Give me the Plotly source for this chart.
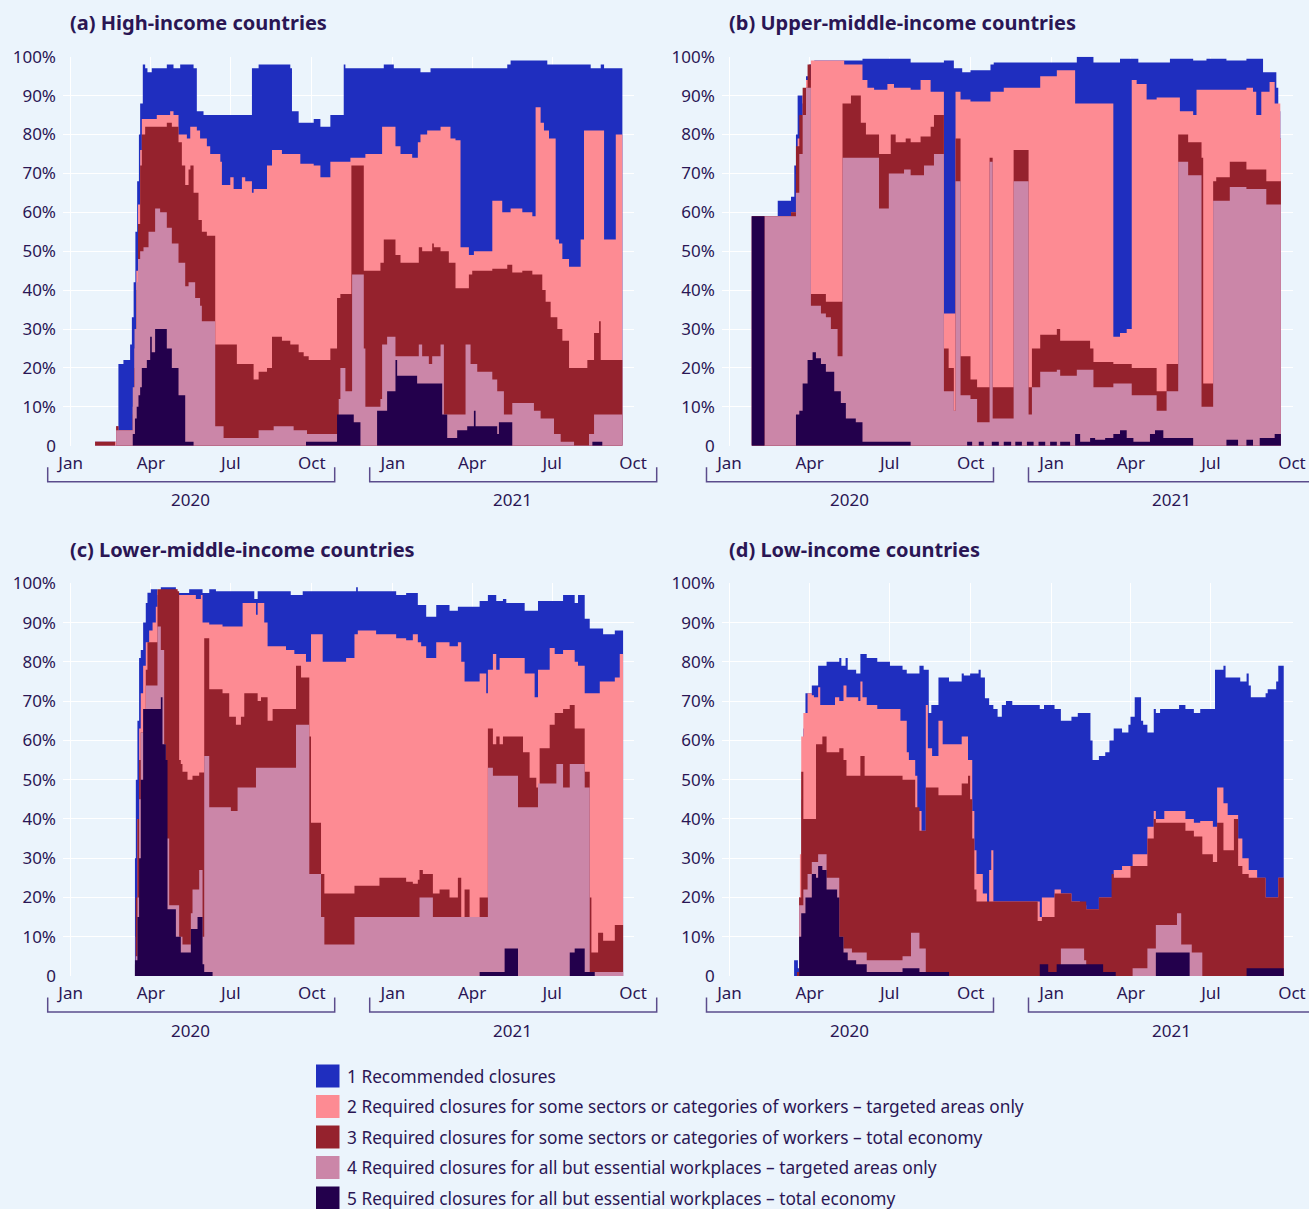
import pandas as pd
import plotly.graph_objects as go

START = pd.Timestamp("2020-01-01")

LEVELS = [
    "1 Recommended closures",
    "2 Required closures for some sectors or categories of workers – targeted areas only",
    "3 Required closures for some sectors or categories of workers – total economy",
    "4 Required closures for all but essential workplaces – targeted areas only",
    "5 Required closures for all but essential workplaces – total economy",
]
COLORS = ["#1f2ebf", "#fd8b93", "#95222d", "#cb86a8", "#23004c"]
TITLES = [
    "(a) High-income countries",
    "(b) Upper-middle-income countries",
    "(c) Lower-middle-income countries",
    "(d) Low-income countries",
]
MONTH_TICKS = ["2020-01-01", "2020-04-01", "2020-07-01", "2020-10-01",
               "2021-01-01", "2021-04-01", "2021-07-01", "2021-10-01"]
MONTH_LABELS = ["Jan", "Apr", "Jul", "Oct", "Jan", "Apr", "Jul", "Oct"]
YEARS = ["2020", "2021"]
Y_TICKS = [0, 10, 20, 30, 40, 50, 60, 70, 80, 90, 100]
Y_LABELS = ["0", "10%", "20%", "30%", "40%", "50%", "60%", "70%", "80%", "90%", "100%"]

# (days since 1 Jan 2020, % of countries at this level or stricter)
HI_1 = [(27.7, 1), (51.6, 5), (54.2, 21), (59.9, 22), (67.5, 26), (69.5, 33), (71.5, 42), (73.5, 55),
        (75.5, 68), (77.5, 80), (78.9, 88), (81.9, 98), (84.6, 97), (87.2, 96), (92.1, 97), (109.2, 98),
        (116.8, 97), (124.4, 98), (139.6, 97), (143.3, 86), (150.9, 85), (205.9, 97), (213.5, 98),
        (249.5, 97), (251.4, 86), (259, 83), (276.1, 84), (283.7, 82), (295, 85), (310.2, 98), (312.1, 97),
        (355.7, 98), (367.1, 97), (397.4, 96), (408.8, 97), (496, 98), (499.8, 99), (541.5, 98),
        (590.8, 97), (602.2, 98), (606, 97), (626.8, 97)]
HI_2 = [(27.7, 1), (51.6, 5), (54.2, 4), (68.3, 4), (70.5, 10), (72.5, 25), (74.5, 45), (76.5, 62),
        (78.9, 76), (80.8, 84), (97.8, 85), (113, 86), (116.8, 85), (122.5, 80), (132, 79), (135.8, 82),
        (143.3, 81), (147, 79), (154.7, 77), (158.5, 75), (170, 73), (171.8, 67), (181.3, 69), (185.1, 66),
        (194.5, 69), (198.3, 68), (205.9, 65), (207.8, 66), (223, 72), (228.7, 76), (240, 75),
        (260.9, 72.5), (276.1, 72), (283.7, 69), (295, 73), (317.8, 74), (334.8, 75), (353.8, 82),
        (369, 77), (374.7, 75), (388, 74), (394.4, 78), (397.4, 80), (405, 81), (420.2, 82), (431.5, 79),
        (437.2, 78.5), (442.9, 51), (452.4, 49), (458.1, 50), (479, 63), (490.3, 60), (499.8, 61),
        (513.1, 60), (524.5, 59), (528.2, 87), (533.9, 83), (537.7, 81), (543.4, 79), (551, 53),
        (554.8, 52), (558.6, 48), (566.2, 46), (579.4, 53), (583.2, 81), (606, 53), (619.3, 80), (626.8, 80)]
HI_3 = [(27.7, 1), (50.4, 0), (51.6, 5), (54.2, 4), (68.3, 4), (70.5, 8), (72.5, 20), (74.5, 40),
        (76.5, 57), (78.9, 72), (80.8, 80), (84.6, 82), (109.2, 83), (114.9, 82), (122.5, 78), (126.3, 72),
        (130.1, 67), (133.9, 71), (136, 72), (139.6, 65), (145.2, 58), (149, 55), (154.7, 54), (164.2, 26),
        (188.8, 21), (207.8, 17), (213.5, 19), (223, 20), (228.7, 28), (240, 27), (249.5, 26), (259, 24),
        (264.7, 23), (270.4, 22), (295, 25), (302.6, 38), (306.4, 39), (318.9, 72), (333, 45), (351.9, 47),
        (355.7, 53), (369, 49), (374.7, 47), (395.5, 51), (399.3, 50), (410.7, 52), (412.6, 51), (420.2, 50),
        (429.6, 47), (437.2, 40.5), (452.4, 44), (456.2, 45), (479, 45.5), (496, 46.5), (501.7, 44.5),
        (513.1, 45), (524.5, 44), (535.8, 40), (539.6, 37), (545.3, 33), (552.9, 30), (558.6, 27),
        (566.2, 20), (587, 22), (594.6, 29), (600.3, 32), (602.2, 22), (626.8, 22)]
HI_4 = [(51.6, 4), (68.3, 4), (70.5, 15), (72.5, 30), (74.5, 42), (76.5, 48), (78.9, 50), (82.7, 51),
        (88.4, 55), (95.9, 61), (101.6, 60), (109.2, 56), (114.9, 52), (122.5, 47), (130.1, 41), (133.9, 42),
        (141.4, 38), (147, 36), (149, 32), (164.2, 5), (173.7, 2), (213.5, 4), (230.6, 5), (253.3, 4),
        (268.5, 3), (302.6, 3), (304.5, 12), (306.4, 20), (312.1, 14), (319.7, 44), (333, 25), (334.8, 10),
        (351.9, 12), (353.8, 26), (359.5, 28), (369, 23), (395.5, 26), (399.3, 23), (406.9, 21), (410.7, 23),
        (420.2, 26), (424, 8), (448.6, 26), (454.3, 21), (461.9, 19), (479, 17), (484.6, 14), (492.2, 8),
        (501.7, 11), (526.3, 9), (533.9, 7), (549.1, 3), (556.7, 1), (571.9, 0), (588.9, 3), (594.6, 8),
        (626.8, 8)]
HI_5 = [(68.3, 0), (70.5, 3), (73, 7), (75, 10), (77, 13), (78.9, 15), (80.8, 20), (86.5, 22), (90.3, 28),
        (92.1, 24), (95.9, 30), (109.2, 25), (114.9, 20), (122.5, 13), (130.1, 1), (139.6, 0), (267.3, 1),
        (302.6, 8), (321.6, 6), (329.2, 0), (348.1, 9), (359.5, 14), (369, 22), (370.9, 18), (393.6, 16),
        (422.1, 8), (427.8, 2), (439.1, 4), (450.5, 5), (458.1, 9), (460, 5), (484.6, 3), (486.5, 6),
        (501.7, 0), (592.7, 1), (604, 0), (626.8, 0)]

UM_1 = [(25.3, 59), (54.8, 63), (69.9, 64), (73.6, 72), (75.5, 80), (77.4, 90), (83.1, 88), (86.9, 95),
        (90.6, 98), (96.3, 99), (151.1, 99.5), (205.8, 98.5), (243.6, 99), (254.9, 97), (264.4, 96),
        (273.8, 96.5), (296.5, 98), (300.2, 98.5), (394.6, 100), (413.5, 98.5), (443.7, 99.5), (464.5, 98.5),
        (500.4, 99.5), (526.8, 99), (541.9, 99.5), (564.6, 99), (587.3, 99.5), (606.2, 96), (621.3, 92),
        (623.5, 86), (625.8, 79), (626.5, 79)]
UM_2 = [(25.3, 59), (69.9, 60), (75.5, 70), (77.4, 79), (83.1, 90), (86.9, 94), (92.5, 99), (130.3, 98),
        (151.1, 94), (156.7, 92), (164.3, 91.5), (179.4, 93), (186.9, 92), (205.8, 91.5), (217.1, 94),
        (228.5, 91), (243.6, 34), (256.8, 91), (262.5, 89), (273.8, 88.5), (296.5, 91), (311.6, 92),
        (353, 95), (371.9, 96.5), (392.7, 88), (436.1, 28), (443.7, 29), (451.3, 30), (457, 94),
        (462.6, 93), (473.9, 89), (485.3, 89.5), (511.7, 86), (526.8, 85), (530.6, 91.5), (587.3, 92),
        (594.8, 91), (598.5, 85), (604.2, 91), (613.6, 93.5), (619.4, 88), (625.8, 79), (626.5, 79)]
UM_3 = [(25.3, 59), (69.9, 60), (75.5, 77), (79.3, 85), (83.1, 92), (88.7, 98), (92.5, 39), (109.5, 37),
        (128.4, 88), (138, 90), (149.2, 83), (155, 80), (169.9, 75), (183.2, 80), (188.8, 78), (200.2, 79),
        (205.8, 78), (217.1, 79.5), (228.5, 82), (232.3, 85), (243.6, 25), (249, 20), (254.9, 9),
        (256.8, 79), (262.5, 23), (273.8, 17), (281.3, 15), (295.5, 74), (299, 15), (322.8, 76),
        (339.8, 15), (343.6, 25), (353, 28.5), (371.9, 30), (375.7, 27), (409.7, 25), (413.5, 21.5),
        (436.1, 21), (457, 20), (485.3, 14), (496.6, 21), (509.8, 80), (521.1, 78), (536.3, 74),
        (538.2, 16), (549.5, 68), (553, 69), (568.4, 73), (587.3, 71), (609.9, 68), (626.5, 68)]
UM_4 = [(39.7, 59), (75.5, 65), (79.3, 75), (83.1, 85), (86.9, 92), (92.5, 36), (103.9, 34), (109.5, 33),
        (115.2, 30), (122.8, 23), (128.4, 74), (169.9, 61), (181, 70), (198.3, 71), (205.8, 69.5),
        (221, 72), (232.3, 75), (243.6, 14), (254.9, 9), (256.8, 68), (262.5, 13), (273.8, 12), (281.3, 6),
        (295.5, 73), (299, 7), (322.8, 68), (339.8, 8), (343.6, 15), (353, 19), (371.9, 19.5), (375.7, 18),
        (394.6, 19.5), (413.5, 15), (436.1, 16), (457, 13), (485.3, 9), (496.6, 14), (509.8, 73),
        (521.1, 69.5), (536.3, 10), (549.5, 63), (568.4, 66.5), (587.3, 66), (609.9, 62), (626.5, 62)]
UM_5 = [(25.3, 59), (39.7, 0), (75.5, 8), (79.3, 9), (83.1, 16), (88.7, 22), (94.4, 24), (98.2, 22.5),
        (103.9, 21), (109.5, 19), (119, 14), (126.5, 11), (132.2, 7), (143.5, 6), (151.1, 1), (205.8, 0),
        (270, 1), (275.7, 0), (283.2, 1), (288.9, 0), (298, 1), (306, 0), (311.6, 1), (320, 0), (324.7, 1),
        (332.2, 0), (337.9, 1), (345.5, 0), (351.1, 1), (358.7, 0), (364.3, 1), (371.9, 0), (375.7, 1),
        (387, 0), (392.7, 3), (398.4, 1), (409.7, 2), (415.4, 1.5), (426.8, 2), (436.1, 3), (443.7, 4),
        (451.3, 2), (458.9, 1), (477.7, 3), (483.4, 4), (492.9, 2), (526.8, 0), (564.6, 1.5), (577.8, 0),
        (587.3, 1.5), (594.8, 0), (602.4, 2), (619.4, 3), (626.5, 3)]

LM_1 = [(72, 0), (73, 30), (74, 50), (75.8, 65), (77.7, 81), (79.6, 83), (82.3, 90), (85.3, 95),
        (87.2, 97.6), (91, 98.5), (98.6, 97), (102.4, 99), (119.5, 97.5), (134.6, 98.5), (149.8, 97.5),
        (157.4, 98.5), (165, 98), (208.6, 96), (212.4, 98), (250, 97), (263.6, 98), (312.9, 98),
        (324.3, 99), (326.2, 98), (369.8, 97), (381.1, 97.5), (394.4, 94.5), (403.9, 91.5), (415.3, 94.5),
        (430.4, 93), (439.9, 94), (464.6, 95.5), (474, 97), (483.5, 95.5), (491.1, 96), (494.9, 95),
        (515.8, 93), (530.9, 95.5), (559.4, 97), (572.6, 95), (576.4, 97), (584, 91), (589.7, 88.5),
        (604.9, 87), (618.2, 88), (627.6, 88)]
LM_2 = [(74, 10), (75.8, 40), (77.7, 63), (79.6, 72), (82.3, 79), (85.3, 85), (89.1, 88), (93, 90),
        (96.7, 94), (98.6, 98), (119.5, 98.5), (121.4, 97), (142.2, 96), (147.9, 97), (149.8, 90),
        (157.4, 89.5), (172.5, 89), (195.3, 95), (210.5, 92), (212.4, 95), (219.9, 90), (223.7, 84),
        (244.6, 83), (254.1, 82), (267.3, 80), (273, 87), (286.3, 80), (312.9, 81), (322.4, 87),
        (326.2, 88), (347, 87), (369.8, 86), (381.1, 85.5), (388.7, 87), (394.4, 85), (398.2, 84),
        (403.9, 81), (415.3, 85), (430.4, 84), (439.9, 85), (443.7, 80), (447.5, 75), (464.6, 77),
        (472.1, 72), (474, 78), (479.7, 82), (483.5, 78), (487.3, 81), (515.8, 77), (527.1, 71),
        (530.9, 78), (544.2, 83.5), (549.9, 82), (559.4, 83), (572.6, 80), (576.4, 79), (584, 72),
        (601.1, 75), (618.2, 76), (623.8, 82), (627.6, 82)]
LM_3 = [(73, 3), (74, 20), (75.8, 40), (77.7, 55), (79.6, 62), (82.3, 68), (85.3, 78), (87.2, 85),
        (98.6, 98.5), (121.4, 98), (123.2, 55), (125.1, 54), (127, 52), (132.7, 50), (138.4, 51),
        (146, 51.8), (151.7, 86), (157.4, 73), (172.5, 72), (180.1, 66), (187.7, 64), (193.4, 66),
        (197.2, 72), (212.4, 70), (216.2, 71), (223.7, 65), (229.4, 68), (256, 79), (261.7, 76),
        (271.1, 61), (273, 39), (284.4, 26), (288.2, 21), (320.5, 21), (322.4, 23), (350.8, 25),
        (381.1, 24), (388.7, 23.5), (394.4, 24.5), (396.3, 27), (400.1, 26), (411.5, 21), (419.1, 22),
        (430.4, 20), (439.9, 25), (443.7, 15), (447.5, 22), (453.2, 14), (464.6, 20), (474, 63),
        (479.7, 59), (483.5, 61), (487.3, 59), (491.1, 61), (513.9, 57), (521.4, 50.5), (529, 48),
        (532.8, 58), (544.2, 64), (549.9, 67), (559.4, 68), (567, 69), (572.6, 63), (584, 52), (589.7, 20),
        (591.6, 6), (599.2, 11), (604.9, 9), (618.2, 13), (627.6, 13)]
LM_4 = [(74, 5), (75.8, 20), (77.7, 45), (79.6, 62), (82.3, 68), (85.3, 74), (98.6, 89), (102.4, 83),
        (106.2, 59), (108.1, 35), (111.9, 18), (123.2, 10), (127, 8), (136.5, 16), (138.4, 22), (146, 27),
        (149.8, 10), (151.7, 56), (157.4, 43), (182, 42), (189.6, 48), (210.5, 53), (256, 64), (271.1, 26),
        (284.4, 15), (288.2, 8), (322.4, 15), (396.3, 20), (411.5, 15), (474, 53), (479.7, 51),
        (508.2, 43), (530.9, 49), (551.8, 54), (559.4, 48), (567, 54), (584, 48), (589.7, 0),
        (591.6, 1), (627.6, 1)]
LM_5 = [(73, 4), (75.8, 15), (77.7, 30), (79.6, 50), (82.3, 68), (102.4, 71), (104.3, 59), (108.1, 55),
        (110, 17), (119.5, 10), (125.1, 6), (136.5, 12), (144.1, 15), (149.8, 3), (151.7, 1), (161.2, 0),
        (464.6, 1), (493, 7), (508.2, 0), (567, 6), (572.6, 7), (584, 1), (595.4, 0), (627.6, 0)]

LI_1 = [(73.4, 4), (77.7, 2), (79.1, 20), (81.5, 45), (83.9, 63), (86.3, 72), (93.5, 74), (100.7, 79),
        (110.3, 80), (124.7, 81), (127.1, 79), (131.9, 81), (134.3, 78), (143.9, 77), (148.7, 82),
        (155.9, 81), (167.9, 80), (182.3, 79), (196.6, 78), (201.4, 77), (215.8, 79), (220.6, 78),
        (226.4, 67), (229.3, 69), (237.4, 76), (249.4, 75), (263.8, 77), (266.2, 76.5), (273.4, 77),
        (283, 78), (285.4, 76), (290.2, 70.7), (295, 69), (299.8, 68), (304.6, 66), (309.4, 69),
        (314.1, 70), (321.3, 69), (352.5, 68), (357.3, 69), (369.3, 68), (376.5, 65), (388.5, 66),
        (395.7, 67), (410.1, 60), (412.5, 55), (419.7, 56), (426.9, 57), (431.7, 60), (436.5, 63),
        (446, 62), (453.2, 64), (455.6, 66), (460.4, 71), (467.6, 65), (470, 64), (474.8, 62), (482, 68),
        (484.4, 67), (489.2, 68), (510.8, 69), (518, 68), (527.6, 67), (534.8, 68), (551.6, 78),
        (561.2, 79), (563.6, 76), (580.3, 75), (587.5, 77), (589.9, 74), (592.3, 71), (609.1, 72),
        (611.5, 73), (621.1, 75), (623.5, 79), (629.7, 79)]
LI_2 = [(79.1, 20), (80, 31), (81.5, 61), (83.9, 67), (88.7, 72), (93.5, 71.5), (95.9, 71), (100.7, 73.5),
        (103.1, 69), (119.9, 71), (124.7, 70), (129.5, 74), (132.9, 71), (146.3, 70), (148.7, 75),
        (151.1, 71), (155.9, 69), (167.9, 68), (194.2, 65), (201.4, 57), (203.8, 55), (211, 51),
        (213.4, 42), (218.2, 37), (223, 69), (225.4, 58), (230.2, 56), (237.4, 65), (242.2, 59),
        (263.8, 61), (271, 55), (275.8, 42), (278.2, 32), (280.6, 26), (287.8, 21), (292.6, 18), (295, 27),
        (297.4, 32), (299.8, 19), (352.5, 15), (354.9, 20), (369.3, 22), (376.5, 21), (388.5, 19),
        (398.1, 18), (405.3, 17), (419.7, 20), (436.5, 27), (446, 28), (458, 31), (474.8, 38), (482, 42),
        (484.4, 40), (494, 42), (518, 40), (527.6, 39), (534.8, 39.5), (549.2, 38), (554, 48), (561.2, 44),
        (566, 41), (577.9, 35), (582.7, 30), (589.9, 27), (599.5, 25), (609.1, 20), (623.5, 25), (629.7, 25)]
LI_3 = [(76.7, 1), (79.1, 20), (81.5, 52), (83.9, 40), (98.3, 59), (105.5, 61), (110.3, 57), (124.7, 58),
        (129.5, 55), (132.9, 51), (148.7, 56), (153.5, 51), (196.6, 50), (211, 43), (215.8, 37), (223, 48),
        (237.4, 46), (263.8, 49), (271, 51), (273.4, 45), (275.8, 35), (278.2, 22), (280.6, 19),
        (350.1, 14), (354.9, 15), (369.3, 21), (388.5, 19), (405.3, 17), (419.7, 20), (434.1, 26),
        (436.5, 25), (455.6, 28), (474.8, 35), (482, 40), (484.4, 39), (518, 37), (527.6, 35.5),
        (537.2, 31), (549.2, 29), (554, 39), (561.2, 32), (573.1, 40), (577.9, 28), (582.7, 26),
        (589.9, 25), (609.1, 20), (623.5, 25), (629.7, 25)]
LI_4 = [(79.1, 18), (83.9, 22), (88.7, 26), (93.5, 29), (100.7, 31), (110.3, 25), (124.7, 10), (129.5, 7),
        (139.1, 6), (155.9, 4), (196.6, 5), (206.2, 11), (215.8, 7), (223, 0), (376.5, 7), (402.9, 4),
        (405.3, 0), (458, 2), (474.8, 7), (484.4, 13), (508.4, 16), (513.2, 8), (525.2, 6), (537.2, 0)]
LI_5 = [(79.1, 10), (81.5, 16), (86.3, 20), (93.5, 26), (98.3, 25), (100.7, 28), (105.5, 27), (110.3, 22),
        (122.3, 20), (124.7, 10), (129.5, 6), (134.3, 4), (143.9, 3), (155.9, 1), (196.6, 2), (215.8, 1),
        (249.4, 0), (352.5, 3), (362.1, 1), (371.7, 3), (424.5, 1), (438.8, 0), (484.4, 6), (522.8, 0),
        (587.5, 2), (629.7, 2)]

PANELS = [
    [HI_1, HI_2, HI_3, HI_4, HI_5],
    [UM_1, UM_2, UM_3, UM_4, UM_5],
    [LM_1, LM_2, LM_3, LM_4, LM_5],
    [LI_1, LI_2, LI_3, LI_4, LI_5],
]

W, H = 1309, 1209
TEXT = "#2a1654"
BG = "#ebf4fc"
FONT = "Noto Sans"


def px(x):
    return x / W


def py(y):
    return 1 - y / H


# pixel layout of each panel: left, right, bottom (0 %), top (100 %)
BOXES = [(63, 634, 445.7, 56.7), (721.8, 1292.8, 445.7, 56.7),
         (63, 634, 976, 583.3), (721.8, 1292.8, 976, 583.3)]
PX_PER_DAY = 571 / 648.75

fig = go.Figure()

for i, series in enumerate(PANELS):
    sfx = "" if i == 0 else str(i + 1)
    for lev, pts in enumerate(series):
        days = [p[0] for p in pts]
        vals = [p[1] for p in pts]
        fig.add_trace(go.Scatter(
            x=START + pd.to_timedelta(days, unit="D"), y=vals,
            mode="lines", line=dict(width=0, shape="hv"),
            fill="tozeroy", fillcolor=COLORS[lev],
            xaxis="x" + sfx, yaxis="y" + sfx,
            showlegend=False, hoverinfo="skip",
        ))

    x0, x1, yb, yt = BOXES[i]
    fig.layout["xaxis" + sfx] = dict(
        domain=[px(x0), px(x1)], anchor="y" + sfx,
        range=[str(START - pd.Timedelta(hours=210)), str(START + pd.Timedelta(days=640))],
        tickvals=MONTH_TICKS, ticktext=MONTH_LABELS,
        showgrid=True, gridcolor="white", gridwidth=1,
        zeroline=False, showline=False, ticks="", automargin=False,
        tickfont=dict(size=17, color=TEXT), ticklabelstandoff=5,
    )
    fig.layout["yaxis" + sfx] = dict(
        domain=[py(yb), py(yt)], anchor="x" + sfx, range=[0, 100],
        tickvals=Y_TICKS, ticktext=Y_LABELS,
        showgrid=True, gridcolor="white", gridwidth=1,
        zeroline=False, showline=False, ticks="", automargin=False,
        tickfont=dict(size=17, color=TEXT), ticklabelstandoff=6,
    )

    jan = x0 + 8.75 * PX_PER_DAY
    fig.add_annotation(
        text="<b>" + TITLES[i] + "</b>", xref="paper", yref="paper",
        x=px(jan - 3), y=py(yt - 34), xanchor="left", yanchor="middle",
        showarrow=False, font=dict(size=20, color=TEXT, family=FONT),
    )
    top, bot = yb + 21.5, yb + 36
    for k, year in enumerate(YEARS):
        off = k * 322
        bx0, bx1 = jan - 23 + off, jan + 264 + off
        fig.add_shape(type="path", xref="paper", yref="paper",
                      path=f"M {px(bx0)} {py(top)} L {px(bx0)} {py(bot)} "
                           f"L {px(bx1)} {py(bot)} L {px(bx1)} {py(top)}",
                      line=dict(color="#5b4c8c", width=1.5))
        fig.add_annotation(text=year, xref="paper", yref="paper",
                           x=px(jan + 120 + off), y=py(yb + 54),
                           xanchor="center", yanchor="middle", showarrow=False,
                           font=dict(size=17, color=TEXT, family=FONT))

# legend
for k, label in enumerate(LEVELS):
    cy = 1076 + 30.5 * k
    fig.add_shape(type="rect", xref="paper", yref="paper",
                  x0=px(316), x1=px(339.5), y0=py(cy - 11.5), y1=py(cy + 11.5),
                  fillcolor=COLORS[k], line=dict(width=0))
    fig.add_annotation(text=label, xref="paper", yref="paper",
                       x=px(345), y=py(cy), xanchor="left", yanchor="middle",
                       showarrow=False, font=dict(size=17.3, color=TEXT, family=FONT))

fig.update_layout(
    width=W, height=H,
    margin=dict(l=0, r=0, t=0, b=0, pad=0, autoexpand=False),
    paper_bgcolor=BG, plot_bgcolor=BG,
    font=dict(family=FONT, color=TEXT),
    showlegend=False,
)

fig.write_html(
    "out.html",
    config={"displayModeBar": False},
    post_script=f"document.body.style.margin='0';document.body.style.background='{BG}';",
)
